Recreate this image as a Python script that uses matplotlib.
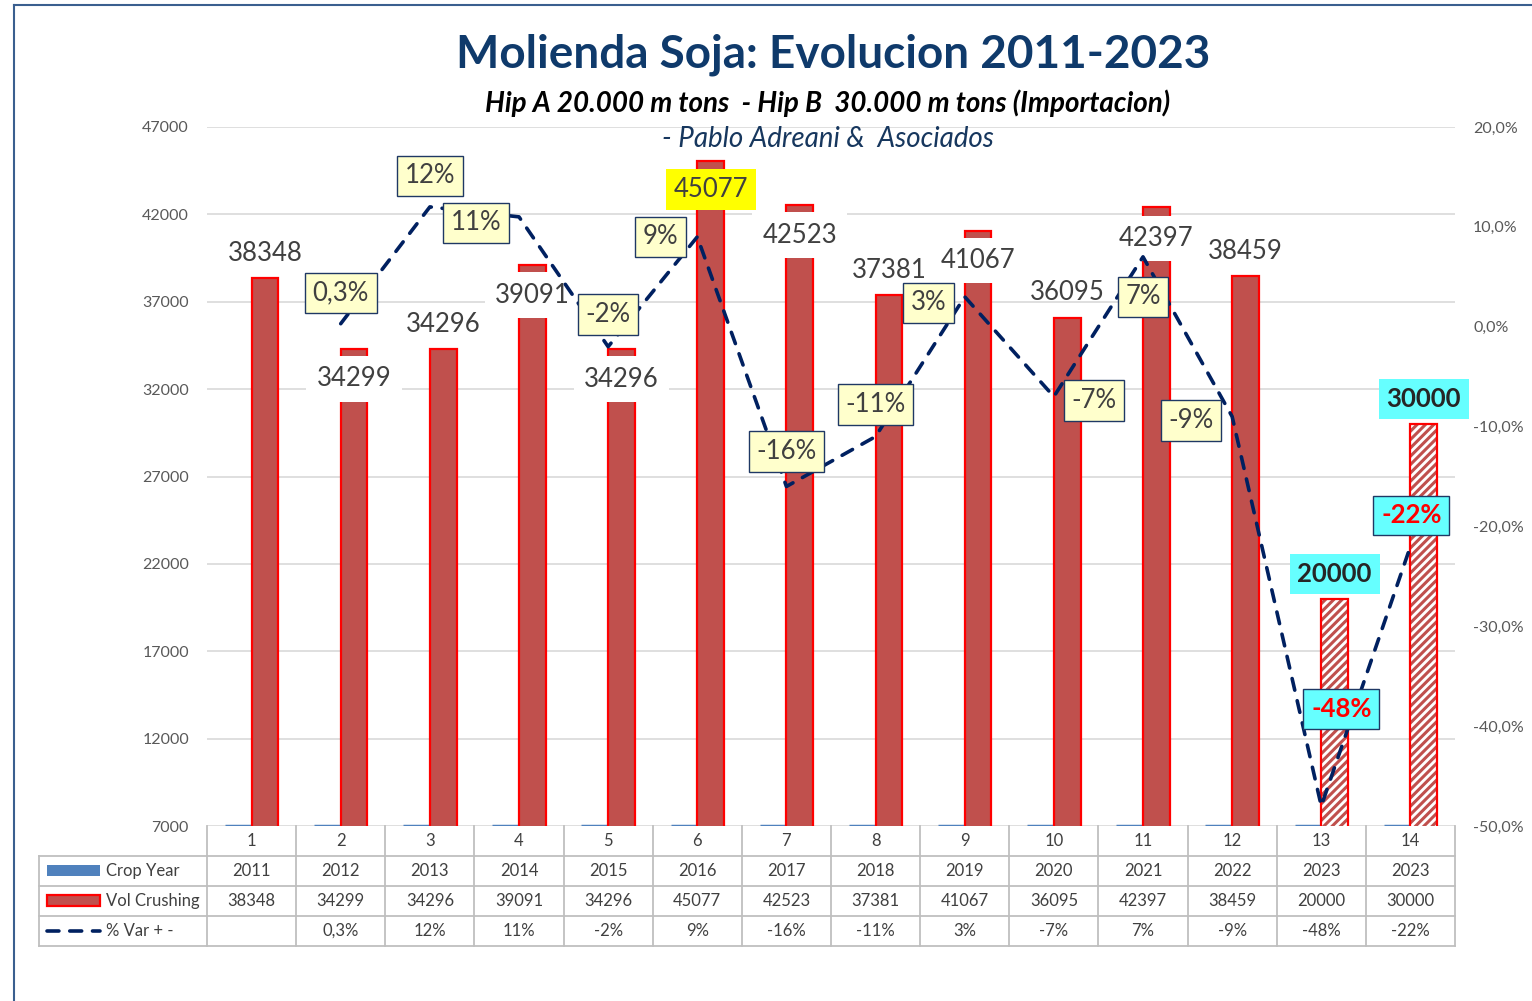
import numpy as np
import matplotlib
matplotlib.use("Agg")
import matplotlib.pyplot as plt
from matplotlib.transforms import blended_transform_factory
from matplotlib.lines import Line2D
from matplotlib.patches import Rectangle

plt.rcParams['font.family'] = ['Lato', 'DejaVu Sans']
plt.rcParams['hatch.linewidth'] = 2.2

# datos
categorias = [str(i) for i in range(1, 15)]
crop_year = [2011, 2012, 2013, 2014, 2015, 2016, 2017, 2018, 2019, 2020, 2021, 2022, 2023, 2023]
vol_crushing = [38348, 34299, 34296, 39091, 34296, 45077, 42523, 37381, 41067, 36095, 42397, 38459, 20000, 30000]
var_pct = [np.nan, 0.3, 12, 11, -2, 9, -16, -11, 3, -7, 7, -9, -48, -22]
var_txt = ["", "0,3%", "12%", "11%", "-2%", "9%", "-16%", "-11%", "3%", "-7%", "7%", "-9%", "-48%", "-22%"]

# estilos de etiquetas (posicion relativa en pixeles)
bar_lbl_dy = [25, -30, 25, -30, -30, -29, -30, 25, -30, 25, -31, 25, 25, 25]
bar_lbl_estilo = ["n", "w", "n", "w", "w", "y", "w", "n", "w", "n", "w", "n", "c", "c"]
pct_lbl_off = [(0, 0), (0, 31), (0, 31), (-43, -6), (0, 32), (-37, 0), (0, 35), (0, 32),
               (-36, -6), (40, -4), (0, -40), (-41, -4), (20, 97), (1, 31)]

ROJO = '#C0504D'
AZUL = '#4F81BD'
NAVY = '#002060'
GRIS = '#404040'

fig = plt.figure(figsize=(15.32, 10.01), dpi=100)
W, H = 1532, 1001
ax = fig.add_axes([207 / W, 1 - 826 / H, (1455 - 207) / W, (826 - 127) / H])
ax2 = ax.twinx()

x = np.arange(len(categorias))
bw = 0.3
ax.bar(x - bw / 2, crop_year, bw, color=AZUL, zorder=2)
ax.hlines([7000] * len(x), x - bw, x, color=AZUL, lw=2.5, zorder=2)

solid = np.arange(len(x)) < 12
ax.bar(x[solid] + bw / 2, np.array(vol_crushing)[solid], bw, color=ROJO,
       edgecolor='#FF0000', lw=1.6, zorder=3)
ax.bar(x[~solid] + bw / 2, np.array(vol_crushing)[~solid], bw, color='white',
       edgecolor=ROJO, hatch='////', lw=0, zorder=3)
ax.bar(x[~solid] + bw / 2, np.array(vol_crushing)[~solid], bw, fill=False,
       edgecolor='#FF0000', lw=1.6, zorder=3)

ax.set_xlim(-0.5, len(x) - 0.5)
ax.set_ylim(7000, 47000)
ax.set_yticks(np.arange(7000, 47001, 5000))
ax.set_xticks([])
ax.grid(axis='y', color='#D9D9D9', lw=1.2, zorder=0)
ax.set_axisbelow(True)
ax.tick_params(axis='y', length=0, pad=13, labelsize=11.5, labelcolor='#595959')
for s in ax.spines.values():
    s.set_visible(False)

ax2.plot(x, var_pct, color=NAVY, lw=2.6, dashes=(3.3, 3.0),
         dash_capstyle='round', zorder=4)
ax2.set_ylim(-50, 20)
ax2.set_yticks(np.arange(-50, 21, 10))
ax2.set_yticklabels([f"{v:.1f}%".replace('.', ',') for v in np.arange(-50, 21, 10)])
ax2.tick_params(axis='y', length=0, pad=13, labelsize=11.5, labelcolor='#595959')
for s in ax2.spines.values():
    s.set_visible(False)

# etiquetas de barras
for i, v in enumerate(vol_crushing):
    est = bar_lbl_estilo[i]
    kw = dict(fontsize=18.5, color=GRIS)
    if est == "w":
        kw['bbox'] = dict(boxstyle='square,pad=0.4', fc='white', ec='none')
    elif est == "y":
        kw['bbox'] = dict(boxstyle='square,pad=0.3', fc='#FFFF00', ec='none')
    elif est == "c":
        kw['bbox'] = dict(boxstyle='square,pad=0.3', fc='#66FFFF', ec='none')
        kw['fontweight'] = 'bold'
        kw['color'] = '#262626'
    ax.annotate(str(v), (x[i] + bw / 2, v), xytext=(0, bar_lbl_dy[i]),
                textcoords='offset pixels', ha='center', va='center',
                zorder=6, annotation_clip=False, **kw)

# etiquetas de variacion
for i, t in enumerate(var_txt):
    if not t:
        continue
    if i >= 12:
        kw = dict(color='#FF0000', fontweight='bold',
                  bbox=dict(boxstyle='square,pad=0.3', fc='#66FFFF', ec='#1F3864', lw=1))
    else:
        kw = dict(color=GRIS,
                  bbox=dict(boxstyle='square,pad=0.3', fc='#FFFFCC', ec='#1F3864', lw=1))
    ax2.annotate(t, (x[i], var_pct[i]), xytext=pct_lbl_off[i],
                 textcoords='offset pixels', ha='center', va='center',
                 fontsize=18.5, zorder=7, annotation_clip=False, **kw)

# tabla de datos
bt = blended_transform_factory(ax.transData, fig.transFigure)
def fy(py):
    return 1 - py / H

tcol = '#BFBFBF'
for b in np.arange(-0.5, len(x), 1.0):
    fig.add_artist(Line2D([b, b], [fy(826), fy(946)], transform=bt, color=tcol, lw=1.3))
for py in [856, 886, 916, 946]:
    fig.add_artist(Line2D([39 / W, 1455 / W], [fy(py), fy(py)], color=tcol, lw=1.3))
fig.add_artist(Line2D([39 / W, 39 / W], [fy(856), fy(946)], color=tcol, lw=1.3))

filas = [crop_year, vol_crushing, var_txt]
for i in range(len(x)):
    fig.text(x[i], fy(841), categorias[i], transform=bt, ha='center', va='center',
             fontsize=12, color=GRIS)
    for r, fila in enumerate(filas):
        fig.text(x[i], fy(871 + 30 * r), str(fila[i]), transform=bt, ha='center',
                 va='center', fontsize=12, color=GRIS)

# leyenda en la tabla
fig.add_artist(Rectangle((47 / W, fy(876)), 53 / W, 11 / H, fc=AZUL, ec='none'))
fig.add_artist(Rectangle((47 / W, fy(906)), 53 / W, 11 / H, fc=ROJO, ec='#FF0000', lw=1.6))
fig.add_artist(Line2D([47 / W, 100 / W], [fy(931), fy(931)], color=NAVY, lw=2.6,
                      dashes=(3.3, 3.0), dash_capstyle='round'))
for r, nombre in enumerate(["Crop Year", "Vol Crushing", "% Var + -"]):
    fig.text(106 / W, fy(871 + 30 * r), nombre, ha='left', va='center',
             fontsize=12, color=GRIS)

# titulos
fig.text(833 / W, fy(55), "Molienda Soja: Evolucion 2011-2023", ha='center', va='center',
         fontsize=33, fontweight='bold', color='#0F3A6B')
fig.text(828 / W, fy(103), "Hip A 20.000 m tons  - Hip B  30.000 m tons (Importacion)",
         ha='center', va='center', fontsize=20, fontweight='bold', fontstyle='italic',
         color='black')
fig.text(828 / W, fy(139), "- Pablo Adreani &  Asociados", ha='center', va='center',
         fontsize=20, fontstyle='italic', color='#17375E')

# borde
fig.add_artist(Line2D([14 / W, 14 / W], [0, fy(5)], color='#3A5F8F', lw=1.5))
fig.add_artist(Line2D([14 / W, 1], [fy(5), fy(5)], color='#3A5F8F', lw=1.5))

fig.savefig("out.png", dpi=100, facecolor='white')
